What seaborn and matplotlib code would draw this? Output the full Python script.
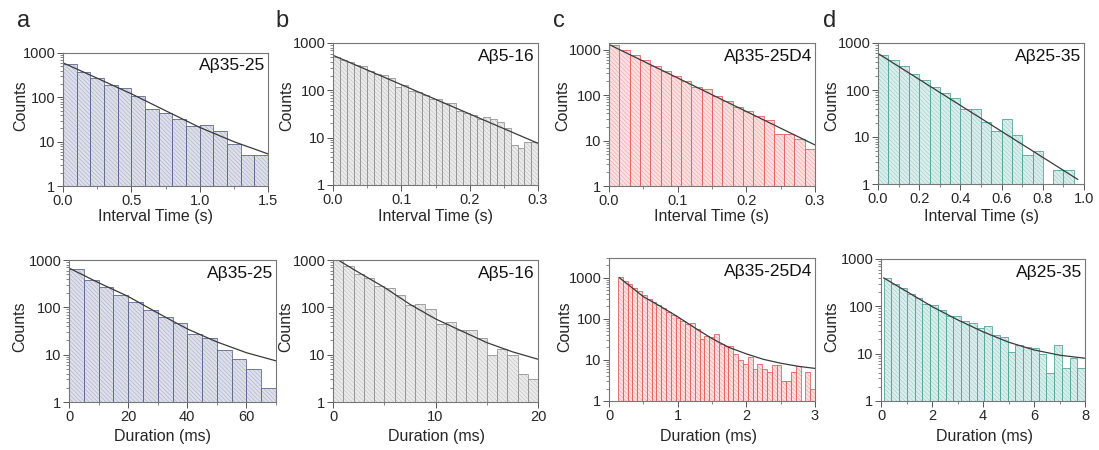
import numpy as np
import pandas as pd
import seaborn as sns
import matplotlib.pyplot as plt
from matplotlib.ticker import FixedLocator, FixedFormatter, MultipleLocator, LogLocator, NullFormatter

W, H = 1099, 450

# ---------------- data ----------------
# top row: interval time histograms (s); bins = start, width, counts
a_int_start, a_int_width = 0.0, 0.1
a_int_counts = [560, 370, 270, 190, 160, 105, 55, 45, 33, 23, 24, 17, 9, 5, 5]
b_int_start, b_int_width = 0.0, 0.01
b_int_counts = [495, 443, 395, 347, 320, 250, 220, 206, 180, 120, 131, 98, 94, 80, 66,
                65, 53, 53, 37, 33, 30, 25, 28, 25, 21, 16, 7, 6, 8, 8]
c_int_start, c_int_width = 0.0, 0.015
c_int_counts = [1290, 965, 775, 580, 436, 333, 263, 205, 151, 136, 96, 74, 55, 44, 35,
                29, 14, 14, 11, 6.4]
d_int_start, d_int_width = 0.0, 0.05
d_int_counts = [565, 428, 319, 223, 165, 116, 86, 68, 40, 40, 21, 13.7, 24.5, 11, 4.1,
                5.1, 0, 2, 2]

# bottom row: duration histograms (ms)
a_dur_start, a_dur_width = 0.0, 5.0
a_dur_counts = [635, 380, 270, 180, 127, 88, 63, 47, 27, 22, 12.5, 8, 5, 2]
b_dur_start, b_dur_width = 0.0, 1.0
b_dur_counts = [1080, 757, 503, 414, 284, 254, 180, 112, 120, 91, 45, 50, 33, 33, 22,
                10, 13, 10, 4, 3]
c_dur_start, c_dur_width = 0.13, 0.07
c_dur_counts = [1050, 850, 700, 560, 460, 380, 310, 260, 215, 180, 150, 125, 105, 90,
                75, 80, 55, 32, 38, 35, 42, 25, 22, 22, 14, 10, 8, 12, 6, 8, 6, 5,
                7.5, 7.5, 3, 3, 5, 7, 0, 5, 2]
d_dur_start, d_dur_width = 0.1, 0.304
d_dur_counts = [400, 300, 240, 185, 150, 112, 105, 85, 63, 62, 48, 45, 35, 38, 25, 22,
                11, 15, 14, 13, 10, 4, 15, 5, 8, 5]

# fitted curves
a_int_fit_x = [0, 0.25, 0.5, 0.75, 1.0, 1.25, 1.5]
a_int_fit_y = [600, 270, 120, 50, 21, 10, 5.3]
b_int_fit_x = [0, 0.3]
b_int_fit_y = [550, 7.6]
c_int_fit_x = [0, 0.3]
c_int_fit_y = [1300, 8]
d_int_fit_x = [0, 0.97]
d_int_fit_y = [600, 1.25]
a_dur_fit_x = [0, 10, 20, 30, 40, 50, 60, 70]
a_dur_fit_y = [676, 331, 170, 76, 35, 18.6, 11, 7.4]
b_dur_fit_x = [0.5, 2.5, 5, 7.5, 10, 12.5, 15, 17.5, 20]
b_dur_fit_y = [1000, 547, 265, 116, 57, 32, 18, 11.5, 8]
c_dur_fit_x = [0.15, 0.5, 0.75, 1.0, 1.25, 1.5, 1.75, 2.0, 2.25, 2.5, 2.75, 3.0]
c_dur_fit_y = [1000, 345, 200, 112, 60, 33, 20, 14, 10.3, 8.3, 7.0, 6.2]
d_dur_fit_x = [0.1, 1, 2, 3, 4, 5, 6, 7, 8]
d_dur_fit_y = [400, 207, 99, 52, 29, 17.5, 12, 9.3, 8]

names = ["A\u03b235-25", "A\u03b25-16", "A\u03b235-25D4", "A\u03b225-35"]
letters = ["a", "b", "c", "d"]
faces = ["#dee0ea", "#ececec", "#fbe1e1", "#ddefed"]
hatches = ["#a7aec7", "#bebebe", "#f0a0a0", "#92ccc6"]
edges = ["#5f6992", "#959595", "#e06464", "#55a69f"]

# ---------------- style ----------------
sns.set_style("ticks")
plt.rcParams["font.family"] = ["Liberation Sans", "DejaVu Sans"]
plt.rcParams["hatch.linewidth"] = 0.4
plt.rcParams["xtick.direction"] = "out"
plt.rcParams["ytick.direction"] = "out"

fig = plt.figure(figsize=(W / 100, H / 100), dpi=100)


def add_ax(l, t, r, b):
    return fig.add_axes([l / W, 1 - b / H, (r - l) / W, (b - t) / H])


def draw(ax, start, width, counts, fx, fy, i, xlim, ylim, xmaj, xmin, xfmt):
    n = len(counts)
    bin_edges = [start + width * k for k in range(n + 1)]
    df = pd.DataFrame({"x": [start + width * (k + 0.5) for k in range(n)], "w": counts})
    # hatched fill
    sns.histplot(data=df, x="x", weights="w", bins=bin_edges, ax=ax, color=faces[i],
                 edgecolor=hatches[i], linewidth=0, alpha=1)
    for p in ax.patches:
        p.set_hatch("\\" * 8)
    # bar outlines
    sns.histplot(data=df, x="x", weights="w", bins=bin_edges, ax=ax, fill=False,
                 color=edges[i], edgecolor=edges[i], linewidth=0.6)
    sns.lineplot(x=fx, y=fy, ax=ax, color="#3a3a3a", lw=0.9)
    ax.set_yscale("log")
    ax.set_xlim(*xlim)
    ax.set_ylim(*ylim)
    ax.yaxis.set_major_locator(FixedLocator([1, 10, 100, 1000]))
    ax.yaxis.set_major_formatter(FixedFormatter(["1", "10", "100", "1000"]))
    ax.yaxis.set_minor_locator(LogLocator(base=10, subs=np.arange(2, 10)))
    ax.yaxis.set_minor_formatter(NullFormatter())
    ax.xaxis.set_major_locator(MultipleLocator(xmaj))
    ax.xaxis.set_minor_locator(MultipleLocator(xmin))
    ax.xaxis.set_major_formatter(lambda v, pos: xfmt.format(v))
    ax.tick_params(which="major", length=4, width=0.7, color="#555", labelsize=10.5,
                   pad=1.5, top=False, right=False)
    ax.tick_params(which="minor", length=2, width=0.5, color="#555", top=False, right=False)
    for s in ax.spines.values():
        s.set_color("#777")
        s.set_linewidth(0.8)
    ax.set_xlabel("")
    ax.set_ylabel("")
    ax.text(0.985, 0.96, names[i], transform=ax.transAxes, ha="right", va="top",
            fontsize=12.5, color="#111")


boxes_top = [(63, 53, 268, 186), (333, 43, 538, 185), (609, 43, 815, 186), (878, 43, 1084, 184)]
boxes_bot = [(69, 260, 276, 402), (333, 260, 538, 402), (609, 258, 815, 401), (881, 259, 1085, 401)]

top_specs = [
    (a_int_start, a_int_width, a_int_counts, a_int_fit_x, a_int_fit_y, (0, 1.5), (1, 1000), 0.5, 0.25, "{:.1f}"),
    (b_int_start, b_int_width, b_int_counts, b_int_fit_x, b_int_fit_y, (0, 0.3), (1, 1000), 0.1, 0.05, "{:.1f}"),
    (c_int_start, c_int_width, c_int_counts, c_int_fit_x, c_int_fit_y, (0, 0.3), (1, 1400), 0.1, 0.05, "{:.1f}"),
    (d_int_start, d_int_width, d_int_counts, d_int_fit_x, d_int_fit_y, (0, 1.0), (1, 1000), 0.2, 0.1, "{:.1f}"),
]
bot_specs = [
    (a_dur_start, a_dur_width, a_dur_counts, a_dur_fit_x, a_dur_fit_y, (0, 70), (1, 1000), 20, 10, "{:.0f}"),
    (b_dur_start, b_dur_width, b_dur_counts, b_dur_fit_x, b_dur_fit_y, (0, 20), (1, 1000), 10, 5, "{:.0f}"),
    (c_dur_start, c_dur_width, c_dur_counts, c_dur_fit_x, c_dur_fit_y, (0, 3), (1, 3000), 1, 0.5, "{:.0f}"),
    (d_dur_start, d_dur_width, d_dur_counts, d_dur_fit_x, d_dur_fit_y, (0, 8), (1, 1000), 2, 1, "{:.0f}"),
]

counts_top_x = [21, 287, 563, 832]
counts_bot_x = [20, 286, 565, 832]
xlab_top_x = [155, 435, 712, 982]
xlab_bot_x = [162, 437, 708, 985]
letter_x = [17, 275, 553, 823]

for i in range(4):
    ax = add_ax(*boxes_top[i])
    s = top_specs[i]
    draw(ax, s[0], s[1], s[2], s[3], s[4], i, s[5], s[6], s[7], s[8], s[9])
    ax = add_ax(*boxes_bot[i])
    s = bot_specs[i]
    draw(ax, s[0], s[1], s[2], s[3], s[4], i, s[5], s[6], s[7], s[8], s[9])

    fig.text(counts_top_x[i] / W, 1 - 106 / H, "Counts", rotation=90, ha="center",
             va="center", fontsize=11.5)
    fig.text(counts_bot_x[i] / W, 1 - 327 / H, "Counts", rotation=90, ha="center",
             va="center", fontsize=11.5)
    fig.text(xlab_top_x[i] / W, 1 - 216 / H, "Interval Time (s)", ha="center",
             va="center", fontsize=11.5)
    fig.text(xlab_bot_x[i] / W, 1 - 436 / H, "Duration (ms)", ha="center",
             va="center", fontsize=11.5)
    fig.text(letter_x[i] / W, 1 - 27 / H, letters[i], ha="left", va="baseline",
             fontsize=17)

fig.savefig("out.png", dpi=100)
